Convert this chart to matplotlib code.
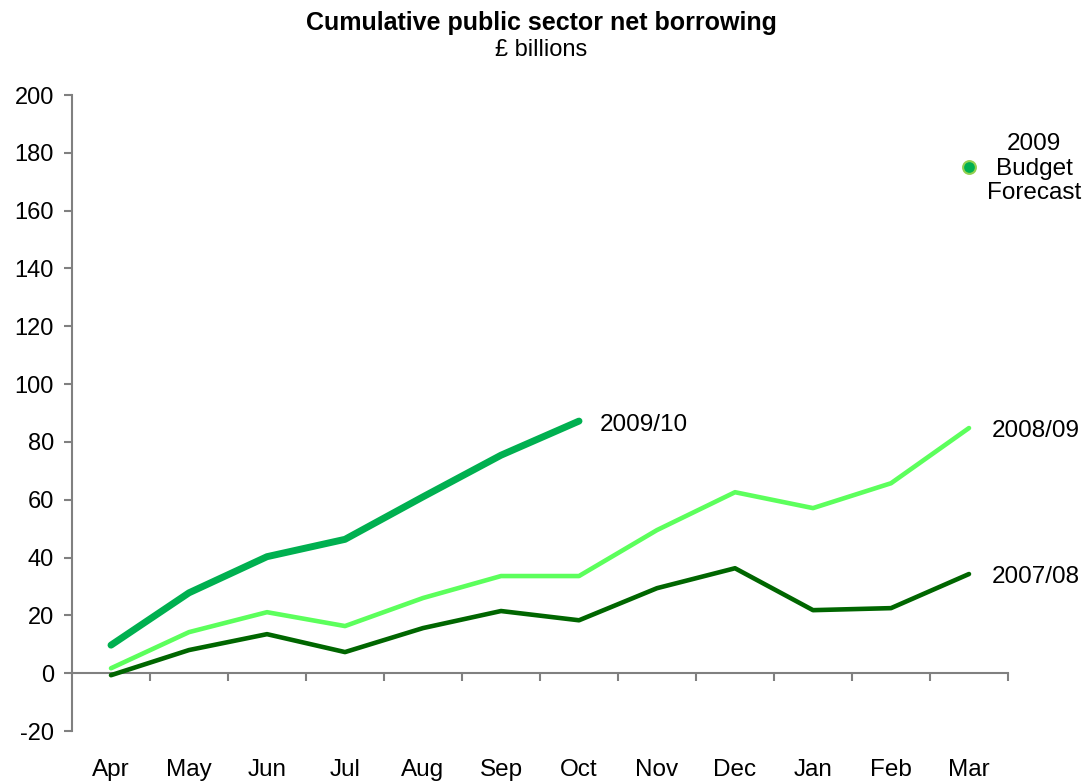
import matplotlib.pyplot as plt
import numpy as np

plt.rcParams['font.family'] = ['Liberation Sans', 'DejaVu Sans']
plt.rcParams['axes.unicode_minus'] = False

months = ['Apr', 'May', 'Jun', 'Jul', 'Aug', 'Sep', 'Oct', 'Nov', 'Dec', 'Jan', 'Feb', 'Mar']
psnb_0910 = [9.7, 27.8, 40.3, 46.3, 61.0, 75.4, 87.2]
psnb_0809 = [1.7, 14.2, 21.1, 16.3, 26.0, 33.6, 33.6, 49.5, 62.6, 57.1, 65.7, 84.8]
psnb_0708 = [-0.7, 8.0, 13.5, 7.3, 15.6, 21.5, 18.3, 29.4, 36.3, 21.8, 22.5, 34.3]
budget_forecast = 175.0

grey = '#808080'

fig = plt.figure(figsize=(10.83, 7.83), dpi=100)
ax = fig.add_axes([72 / 1083, 1 - 731 / 783, 936 / 1083, 636 / 783])

x = np.arange(len(months))
ax.plot(x, psnb_0708, color='#006600', lw=3.3, solid_capstyle='round', zorder=3)
ax.plot(x, psnb_0809, color='#5CFF5C', lw=3.3, solid_capstyle='round', zorder=3)
ax.plot(x[:len(psnb_0910)], psnb_0910, color='#00B050', lw=5, solid_capstyle='round', zorder=4)
ax.scatter([x[-1]], [budget_forecast], s=85, color='#00B050', edgecolor='#92D050', linewidth=1.5, zorder=5)

# series labels next to the last point of each line
txt = dict(fontsize=17.5, va='center', ha='left', textcoords='offset points')
ax.annotate('2009/10', (x[len(psnb_0910) - 1], psnb_0910[-1]), xytext=(15, -3), **txt)
ax.annotate('2008/09', (x[-1], psnb_0809[-1]), xytext=(16.5, -2), **txt)
ax.annotate('2007/08', (x[-1], psnb_0708[-1]), xytext=(16.5, -2), **txt)
ax.annotate('2009\nBudget\nForecast', (x[-1], budget_forecast), xytext=(47, -1),
            textcoords='offset points', fontsize=17.5, ha='center', va='center',
            linespacing=1.15)

ax.set_xlim(-0.5, 11.5)
ax.set_ylim(-20, 200)
ax.set_yticks(np.arange(-20, 201, 20))

for s in ['top', 'right']:
    ax.spines[s].set_visible(False)
ax.spines['bottom'].set_position(('data', 0))
ax.spines['bottom'].set_color(grey)
ax.spines['left'].set_color(grey)
ax.spines['bottom'].set_linewidth(1.5)
ax.spines['left'].set_linewidth(1.5)

# category names sit at the bottom; the tick marks stay on the zero line
ax.set_xticks(x)
ax.set_xticklabels(months)
ax.set_xticks(np.arange(0.5, 12, 1), minor=True)
ax.tick_params(axis='x', which='major', length=0, pad=62, labelsize=17.5)
ax.tick_params(axis='x', which='minor', length=6, width=1.5, color=grey, direction='out')
ax.tick_params(axis='y', length=6, width=1.5, color=grey, labelsize=17, pad=7)

fig.text(0.5, 1 - 23 / 783, 'Cumulative public sector net borrowing', ha='center', va='center',
         fontsize=18, fontweight='bold')
fig.text(0.5, 1 - 50 / 783, '£ billions', ha='center', va='center', fontsize=17)

fig.savefig('out.png', dpi=100)
